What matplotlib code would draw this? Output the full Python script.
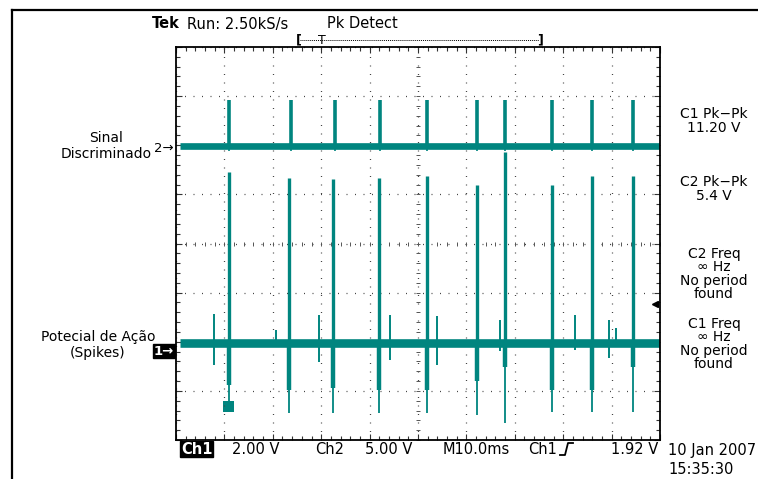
import numpy as np
import matplotlib.pyplot as plt
from matplotlib.lines import Line2D
from matplotlib.patches import Rectangle
import matplotlib.transforms as mtransforms

W, H = 758, 479
TEAL = "#00857f"

# Canal 1 (potencial de ação), 2 V/div ; canal 2 (sinal discriminado), 5 V/div
v_div1, v_div2 = 2.0, 5.0
gnd1, gnd2 = -2.19, 1.93          # posição do terra de cada canal (divisões)
trace_start = 0.8                 # ms
base1_v, base2_v = 0.32, 0.30

# pulsos do canal 2 (ms, V)
ch2_pulse_t = [10.95, 23.8, 32.9, 42.1, 51.9, 62.2, 68.0, 77.7, 86.0, 94.4]
ch2_pulse_v = [5.0, 5.0, 5.0, 5.0, 5.0, 5.0, 5.0, 5.0, 5.0, 5.0]

# spikes do canal 1 (ms, V)
ch1_spike_t = [10.9, 23.4, 32.4, 41.9, 51.9, 62.2, 68.0, 77.7, 86.0, 94.4]
ch1_spike_top = [7.3, 7.06, 7.0, 7.06, 7.14, 6.76, 8.12, 6.76, 7.14, 7.14]
ch1_spike_bot = [-2.5, -2.54, -2.54, -2.54, -2.54, -2.62, -2.94, -2.5, -2.5, -2.5]
ch1_spike_dip = [-1.4, -1.6, -1.52, -1.6, -1.6, -1.2, -0.66, -1.6, -1.6, -0.66]

# spikes menores do canal 1
ch1_small_t = [7.9, 20.7, 29.5, 44.2, 53.9, 66.9, 82.4, 89.5, 90.9]
ch1_small_top = [1.5, 0.84, 1.46, 1.46, 1.42, 1.26, 1.46, 1.26, 0.94]
ch1_small_bot = [-0.58, 0.3, -0.46, -0.38, -0.58, 0.0, 0.04, -0.3, 0.3]

# marca de saturação perto do primeiro spike (ms, V)
clip_t0, clip_t1 = 9.7, 12.0
clip_v0, clip_v1 = -2.5, -2.05

trig_level_v = 1.92


def d1(v):
    return np.asarray(v) / v_div1 + gnd1


def d2(v):
    return np.asarray(v) / v_div2 + gnd2


fig = plt.figure(figsize=(W / 100, H / 100), dpi=100)
ax = fig.add_axes([176 / W, (H - 440) / H, 484 / W, 393 / H])
ax.set_xlim(0, 100)
ax.set_ylim(-4, 4)

# graticula
ax.set_xticks(np.arange(0, 101, 10))
ax.set_xticks(np.arange(0, 101, 2), minor=True)
ax.set_yticks(np.arange(-4, 4.1, 1))
ax.set_yticks(np.arange(-4, 4.1, 0.2), minor=True)
ax.tick_params(which="both", direction="in", top=True, right=True,
               labelbottom=False, labelleft=False, color="#333", width=0.8)
ax.tick_params(which="major", length=4)
ax.tick_params(which="minor", length=3)
ax.grid(True, which="major", color="#444", linestyle=(0, (0.8, 6)), linewidth=0.9)
for s in ax.spines.values():
    s.set_linewidth(1.3)
yt = np.arange(-4, 4.01, 0.2)
xt = np.arange(0, 100.1, 2)
ax.plot(np.full_like(yt, 50), yt, ls="none", marker="_", ms=3, mew=0.7, color="#555")
ax.plot(xt, np.zeros_like(xt), ls="none", marker="|", ms=3, mew=0.7, color="#555")

# traços
ax.hlines(d2(base2_v), trace_start, 100, color=TEAL, lw=4.8)
ax.vlines(ch2_pulse_t, d2(base2_v), d2(ch2_pulse_v), color=TEAL, lw=2.6)
ax.vlines(ch2_pulse_t, d2(base2_v) - 0.1, d2(base2_v), color=TEAL, lw=1.2)

ax.hlines(d1(base1_v), trace_start, 100, color=TEAL, lw=6.2)
ax.vlines(ch1_spike_t, d1(base1_v), d1(ch1_spike_top), color=TEAL, lw=2.4)
ax.vlines(ch1_spike_t, d1(ch1_spike_bot), d1(base1_v), color=TEAL, lw=1.3)
ax.vlines(ch1_spike_t, d1(ch1_spike_dip), d1(base1_v), color=TEAL, lw=3.2)
ax.vlines(ch1_small_t, d1(ch1_small_bot), d1(ch1_small_top), color=TEAL, lw=1.4)
ax.add_patch(Rectangle((clip_t0, d1(clip_v0)), clip_t1 - clip_t0,
                       d1(clip_v1) - d1(clip_v0), color=TEAL, lw=0))

# marcador do nível de trigger
ax.plot([99], [d1(trig_level_v)], marker="<", ms=5, color="k", clip_on=False)

# marcadores de terra
tr = mtransforms.blended_transform_factory(ax.transAxes, ax.transData)
ax.text(-0.004, d2(0), "2\u2192", transform=tr, ha="right", va="center", fontsize=9.5)
ax.text(-0.004, d1(0), "1\u2192", transform=tr, ha="right", va="center", fontsize=9.5,
        color="white", fontweight="bold",
        bbox=dict(boxstyle="square,pad=0.05", fc="black", ec="black"))


def ft(x, y, s, **kw):
    kw.setdefault("fontsize", 10)
    kw.setdefault("va", "center")
    return fig.text(x / W, 1 - y / H, s, **kw)


ft(152, 24, "Tek", fontweight="bold", fontsize=10.5)
ft(187, 24, "Run: 2.50kS/s", fontsize=10.5)
ft(327, 24, "Pk Detect", fontsize=10.5)
fig.add_artist(Line2D([300 / W, 539 / W], [1 - 40 / H] * 2, color="k", lw=0.7, ls=(0, (1, 1))))
ft(299, 40, "[", ha="center", fontweight="bold", fontsize=9)
ft(540, 40, "]", ha="center", fontweight="bold", fontsize=9)
ft(322, 40, "T", ha="center", fontsize=9)

ft(106, 146, "Sinal\nDiscriminado", ha="center", fontsize=10, linespacing=1.15)
ft(98, 345, "Potecial de A\u00e7\u00e3o\n(Spikes)", ha="center", fontsize=10, linespacing=1.15)

ft(714, 121, "C1 Pk\u2212Pk\n11.20 V", ha="center", linespacing=0.95)
ft(714, 189, "C2 Pk\u2212Pk\n5.4 V", ha="center", linespacing=0.95)
ft(714, 274, "C2 Freq\n\u221e Hz\nNo period\nfound", ha="center", linespacing=0.95)
ft(714, 344, "C1 Freq\n\u221e Hz\nNo period\nfound", ha="center", linespacing=0.95)

ft(181, 449, "Ch1", color="white", fontweight="bold", fontsize=10.5,
   bbox=dict(boxstyle="square,pad=0.05", fc="black", ec="black"))
ft(232, 449, "2.00 V", fontsize=10.5)
ft(315, 449, "Ch2", fontsize=10.5)
ft(365, 449, "5.00 V", fontsize=10.5)
ft(443, 449, "M10.0ms", fontsize=10.5)
ft(528, 449, "Ch1", fontsize=10.5)
fig.add_artist(Line2D(np.array([560, 565, 568, 573]) / W,
                      1 - np.array([455, 455, 443, 443]) / H, color="k", lw=1.3))
ft(658, 449, "1.92 V", ha="right", fontsize=10.5)
ft(668, 451, "10 Jan 2007", fontsize=10.5)
ft(668, 469, "15:35:30", fontsize=10.5)

# moldura externa
fig.add_artist(Line2D([12 / W, 12 / W], [0, 1 - 10 / H], color="k", lw=1.6))
fig.add_artist(Line2D([12 / W, 1], [1 - 10 / H] * 2, color="k", lw=1.6))

fig.savefig("out.png", dpi=100)
